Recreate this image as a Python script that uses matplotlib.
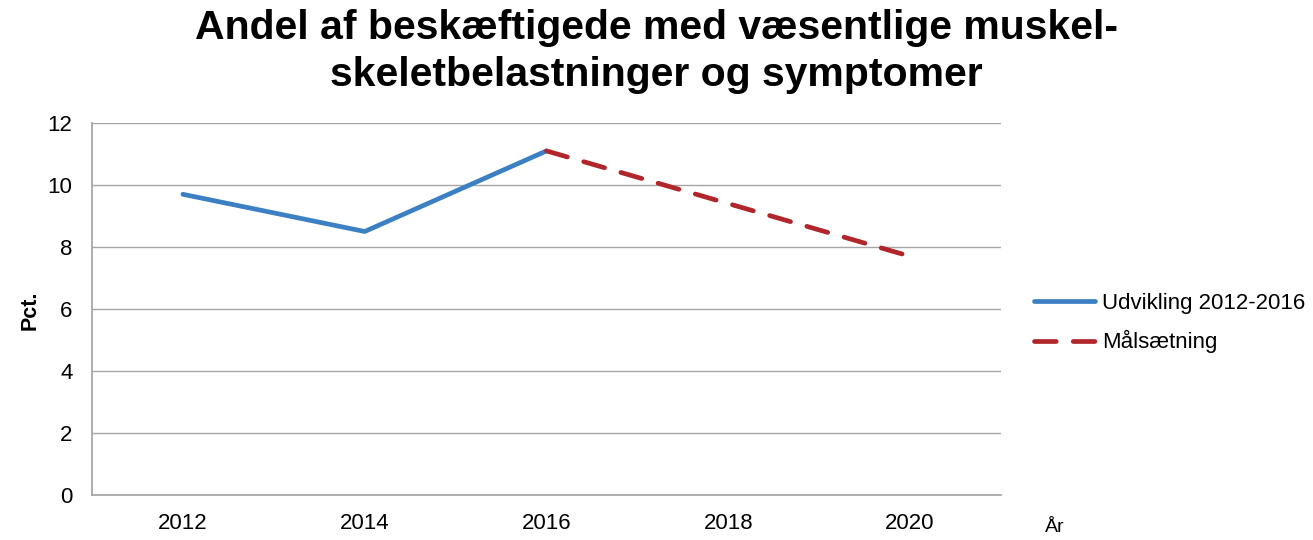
import numpy as np
import matplotlib.pyplot as plt

plt.rcParams['font.family'] = ['Liberation Sans', 'DejaVu Sans']

# data
aar = ['2012', '2014', '2016', '2018', '2020']
udvikling = [9.7, 8.5, 11.1, np.nan, np.nan]
maalsaetning = [np.nan, np.nan, 11.1, 9.4, 7.7]

fig = plt.figure(figsize=(13.13, 5.4), dpi=100)
ax = fig.add_axes([92 / 1313, 45 / 540, 909 / 1313, 372 / 540])

x = np.arange(len(aar))
ax.plot(x, udvikling, color='#3C80C4', lw=3.4, solid_capstyle='round',
        label='Udvikling 2012-2016')
ax.plot(x, maalsaetning, color='#B0262B', lw=3.4, dashes=(4.6, 3.6),
        dash_capstyle='round', label='Målsætning')

ax.set_xlim(-0.5, len(aar) - 0.5)
ax.set_ylim(0, 12)
ax.set_yticks(range(0, 13, 2))
ax.set_xticks(x)
ax.set_xticklabels(aar)
ax.tick_params(length=0, labelsize=16, colors='black')
ax.tick_params(axis='y', pad=14)
ax.tick_params(axis='x', pad=13)
ax.grid(axis='y', color='#A6A6A6', lw=1)
ax.set_axisbelow(True)
for s in ['top', 'right']:
    ax.spines[s].set_visible(False)
for s in ['left', 'bottom']:
    ax.spines[s].set_color('#A0A0A0')
    ax.spines[s].set_linewidth(1.2)

fig.text(30 / 1313, 1 - 310 / 540, 'Pct.', rotation=90, fontsize=15.5,
         fontweight='bold', ha='center', va='center')
fig.text(1045 / 1313, 1 - 527 / 540, 'År', fontsize=14, ha='left', va='center')

fig.text(0.5, 1 - 9 / 540,
         'Andel af beskæftigede med væsentlige muskel-\nskeletbelastninger og symptomer',
         ha='center', va='top', fontsize=29.5, fontweight='bold', linespacing=1.3)

ax.legend(loc='center left', bbox_to_anchor=(1034 / 1313, 1 - 323 / 540),
          bbox_transform=fig.transFigure, frameon=False, fontsize=16,
          handlelength=2.75, handletextpad=0.3, labelspacing=0.75,
          borderaxespad=0, borderpad=0)

fig.savefig('out.png', dpi=100)
